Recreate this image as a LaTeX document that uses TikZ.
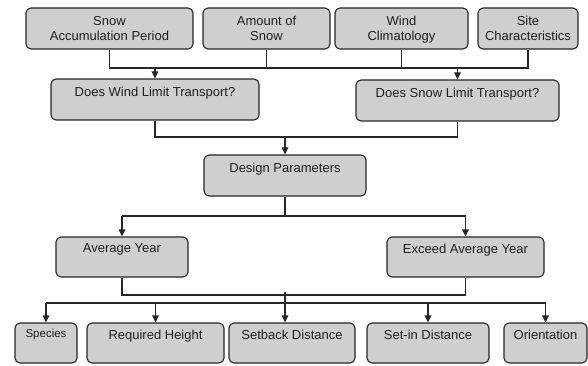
\documentclass[tikz,border=0pt]{standalone}
\usepackage{fontspec}
\setmainfont{Liberation Sans}
\usetikzlibrary{arrows.meta}
\begin{document}
\begin{tikzpicture}[x=1pt,y=-1pt,
  box/.style={draw=black!85, fill=black!19, line width=1.1pt, rounded corners=5pt, inner sep=0pt},
  txt/.style={font=\fontsize{13}{15}\selectfont, align=center, inner sep=0pt, anchor=north, text=black!88},
  ln/.style={draw=black!85, line width=1.1pt},
  arr/.style={ln, -{Triangle[length=7pt,width=6.5pt]}}]
\useasboundingbox (0,0) rectangle (588,366);
% boxes: (x1,y1) (x2,y2)
\newcommand{\mybox}[5]{%
  \node[box, minimum width=#4-#2, minimum height=#5-#3] (#1) at ({(#2+#4)/2},{(#3+#5)/2}) {};}
\mybox{t1}{26}{8}{193}{49}
\mybox{t2}{203}{8}{330}{49}
\mybox{t3}{335}{8}{468}{49}
\mybox{t4}{478}{8}{578}{49}
\mybox{w}{51}{79}{259}{120}
\mybox{s}{356}{80}{559}{121}
\mybox{d}{204}{155}{366}{196}
\mybox{a}{56}{237}{188}{277}
\mybox{e}{387}{237}{544}{277}
\mybox{b1}{15}{323}{77}{363}
\mybox{b2}{87}{323}{224}{363}
\mybox{b3}{229}{323}{355}{363}
\mybox{b4}{367}{323}{489}{363}
\mybox{b5}{504}{323}{587}{363}
% texts
\node[txt] (t1l) at ([yshift=-8.3pt]t1.north) {Snow\\Accumulation Period};
\node[txt] (t2l) at ([yshift=-8.3pt]t2.north) {Amount of\\Snow};
\node[txt] (t3l) at ([yshift=-8.3pt]t3.north) {Wind\\Climatology};
\node[txt] (t4l) at ([yshift=-8.3pt]t4.north) {Site\\Characteristics};
\node[txt] (wl) at ([yshift=-8.8pt]w.north) {Does Wind Limit Transport?};
\node[txt] (sl) at ([yshift=-8.8pt]s.north) {Does Snow Limit Transport?};
\node[txt] (dl) at ([yshift=-8.3pt]d.north) {Design Parameters};
\node[txt] (al) at ([yshift=-7.3pt]a.north) {Average Year};
\node[txt] (el) at ([yshift=-7.3pt]e.north) {Exceed Average Year};
\node[txt, font=\fontsize{11.5}{13}\selectfont] (b1l) at ([yshift=-7pt]b1.north) {Species};
\node[txt] (b2l) at ([yshift=-7.5pt]b2.north) {Required Height};
\node[txt] (b3l) at ([yshift=-7.5pt]b3.north) {Setback Distance};
\node[txt] (b4l) at ([yshift=-7.5pt]b4.north) {Set-in Distance};
\node[txt] (b5l) at ([yshift=-7.5pt]b5.north) {Orientation};
% junction coordinates
\coordinate (j1) at (0,68);
\coordinate (j2) at (0,137);
\coordinate (j3) at (0,216);
\coordinate (j4) at (0,295);
\coordinate (j5) at (0,303);
\coordinate (j6) at (285,292);
% level 1
\draw[ln] (t1.south) -- (t1.south |- j1) -- (t4.south |- j1) -- (t4.south);
\draw[ln] (t2.south) -- (t2.south |- j1);
\draw[ln] (t3.south) -- (t3.south |- j1);
\draw[arr] (w.north |- j1) -- (w.north);
\draw[arr] (s.north |- j1) -- (s.north);
% level 2
\draw[ln] (w.south) -- (w.south |- j2) -- (s.south |- j2) -- (s.south);
\draw[arr] (d.north |- j2) -- (d.north);
% level 3
\draw[ln] (d.south) -- (d.south |- j3);
\draw[ln] (a.north |- j3) -- (e.north |- j3);
\draw[arr] (a.north |- j3) -- (a.north);
\draw[arr] (e.north |- j3) -- (e.north);
% level 4
\draw[ln] (a.south) -- (a.south |- j4) -- (e.south |- j4) -- (e.south);
\draw[ln] (b1.north |- j5) -- (b5.north |- j5);
\draw[arr] (b1.north |- j5) -- (b1.north);
\draw[arr] (b2.north |- j5) -- (b2.north);
\draw[arr] (j6) -- (j6 |- b3.north);
\draw[arr] (b4.north |- j5) -- (b4.north);
\draw[arr] (b5.north |- j5) -- (b5.north);
\end{tikzpicture}
\end{document}
